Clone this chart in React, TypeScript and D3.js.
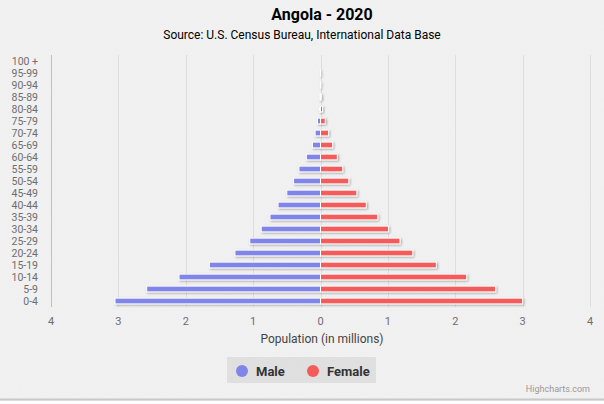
import React from "react";
import * as d3 from "d3";

const categories = ["0-4","5-9","10-14","15-19","20-24","25-29","30-34","35-39","40-44","45-49","50-54","55-59","60-64","65-69","70-74","75-79","80-84","85-89","90-94","95-99","100 +"];
const maleValues = [3.05,2.58,2.10,1.65,1.27,1.05,0.88,0.75,0.63,0.50,0.40,0.32,0.21,0.12,0.08,0.045,0.015,0.008,0.002,0.0003,0];
const femaleValues = [3.00,2.60,2.17,1.72,1.37,1.18,1.01,0.85,0.68,0.54,0.42,0.33,0.25,0.18,0.12,0.07,0.03,0.012,0.003,0.0005,0];
const xTicks = [-4,-3,-2,-1,0,1,2,3,4];
const seriesNames = ["Male","Female"];
const seriesColors = ["#8085e9","#f45b5b"];

const FONT = "Roboto, 'Liberation Sans Narrow', 'DejaVu Sans Condensed', sans-serif";

export default function App() {
  const W = 604, H = 404;
  const left = 51, right = 590, top = 55, bottom = 307;
  const x = d3.scaleLinear().domain([-4, 4]).range([left, right]);
  const y = d3.scaleBand().domain([...categories].reverse()).range([top, bottom]).paddingInner(0).paddingOuter(0);
  const bw = y.bandwidth();
  const barH = bw * 0.6 * 0.8;
  const labelColor = "#6e6e70";

  return (
    <svg width={W} height={H} style={{ position: "absolute", left: 0, top: 0, display: "block" }} fontFamily={FONT}>
      <defs>
        <filter id="shadow" x="-20%" y="-50%" width="140%" height="200%">
          <feDropShadow dx="1" dy="1" stdDeviation="0.8" floodColor="#000" floodOpacity="0.35" />
        </filter>
        <filter id="noise" x="0" y="0" width="100%" height="100%">
          <feTurbulence type="fractalNoise" baseFrequency="0.9" numOctaves="2" seed="3" result="t" />
          <feColorMatrix type="matrix" values="0 0 0 0 0.5  0 0 0 0 0.5  0 0 0 0 0.5  0 0 0 0.06 0" />
        </filter>
      </defs>
      <rect x={0} y={0} width={W} height={H} fill="#f2f2f2" />
      <rect x={0} y={0} width={W} height={H} filter="url(#noise)" />
      <line x1={0} x2={W} y1={399.5} y2={399.5} stroke="#c8c8c8" strokeWidth={2} />
      <rect x={0} y={401} width={W} height={3} fill="#ffffff" />

      <text x={322} y={20} textAnchor="middle" fontSize={16} fontWeight="bold" fill="#000">Angola - 2020</text>
      <text x={302} y={39} textAnchor="middle" fontSize={12} fill="#000">Source: U.S. Census Bureau, International Data Base</text>

      {xTicks.map(t => (
        <line key={"g" + t} x1={Math.round(x(t)) + 0.5} x2={Math.round(x(t)) + 0.5} y1={top} y2={bottom}
          stroke={t === -4 ? "#c0c0c0" : "#dedede"} strokeWidth={1} />
      ))}

      {categories.map(c => (
        <text key={"yl" + c} x={38} y={(y(c) as number) + bw / 2 + 4} textAnchor="end" fontSize={10.5} fill={labelColor}>{c}</text>
      ))}

      {xTicks.map(t => (
        <text key={"xl" + t} x={x(t)} y={325} textAnchor="middle" fontSize={11} fill={labelColor}>{Math.abs(t)}</text>
      ))}
      <text x={322} y={343} textAnchor="middle" fontSize={12} fill="#444">Population (in millions)</text>

      <g filter="url(#shadow)">
        {categories.map((c, i) => {
          const yy = (y(c) as number) + (bw - barH) / 2;
          const mv = maleValues[i], fv = femaleValues[i];
          return (
            <g key={"b" + c}>
              {mv > 0 && <rect x={x(-mv)} y={yy} width={x(0) - x(-mv)} height={barH} fill={seriesColors[0]} stroke="#fff" strokeWidth={1} />}
              {fv > 0 && <rect x={x(0)} y={yy} width={x(fv) - x(0)} height={barH} fill={seriesColors[1]} stroke="#fff" strokeWidth={1} />}
            </g>
          );
        })}
      </g>

      <rect x={227} y={357} width={149} height={26} fill="rgba(0,0,0,0.07)" />
      {seriesNames.map((n, i) => {
        const cx = i === 0 ? 242 : 313;
        return (
          <g key={n}>
            <circle cx={cx} cy={371} r={6} fill={seriesColors[i]} />
            <text x={cx + 14} y={375.5} fontSize={13} fontWeight="bold" fill="#333">{n}</text>
          </g>
        );
      })}

      <text x={590} y={392} textAnchor="end" fontSize={9} fill="#999">Highcharts.com</text>
    </svg>
  );
}
